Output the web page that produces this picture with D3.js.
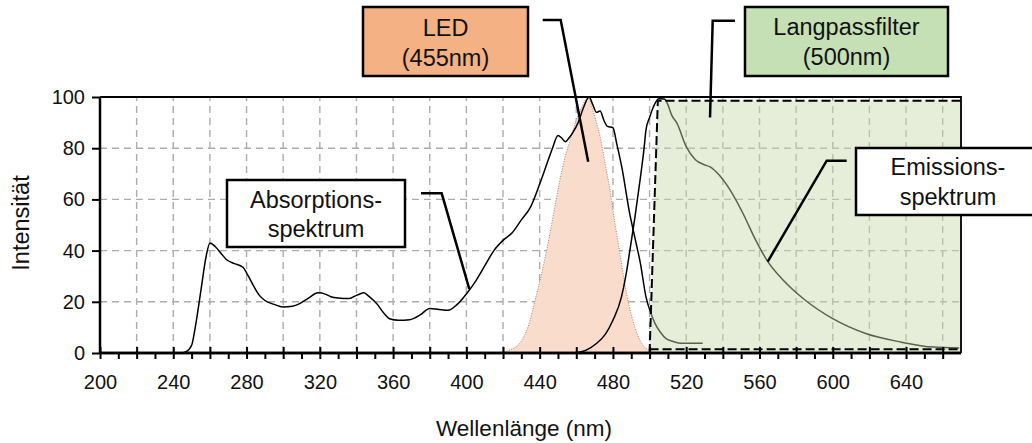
<!DOCTYPE html>
<html>
<head>
<meta charset="utf-8">
<script src="https://cdn.jsdelivr.net/npm/d3@7"></script>
<style>
  body { margin: 0; background: white; }
  svg { font-family: Arial, "Liberation Sans", sans-serif; }
</style>
</head>
<body>
<svg width="1032" height="443"></svg>
<script>
var width = 1032, height = 443;

// spectra, [wavelength nm, intensity]
var absorption = [
  [200,0],[244,0],[247,0.5],[250,3],[252,10],[255,24],[258,38],[260,43],[263,41.5],[266,39],
  [269,36.5],[273,35],[278,33.5],[281,30],[284,26],[287,22.5],[290,20.5],[295,19],[300,18],
  [305,18.3],[309,19.3],[314,21.5],[319,23.5],[323,23],[326,22],[330,21.5],[336,21.3],[340,22.5],
  [344,23.5],[347,22],[351,19.3],[355,15.5],[358,13.4],[363,12.8],[369,13],[375,15],[380,17.4],
  [385,17],[390,16.7],[395,19],[401,24],[405,28],[410,34],[415,40],[420,44],[425,47],[430,52],
  [435,57],[440,66],[444,74],[447,80],[450,85],[452,84],[454,82.5],[456,84],[458,86],
  [461,90],[464,96],[467,100],[469,97],[471,94],[473,94.5],[475,91],[477,88.5],[480,88],[482,82],
  [485,72],[489,55],[492,45],[495,35],[498,22],[501,15],[503,11.5],[506,8],[509,5.6],[513,4.5],
  [517,3.8],[529,3.8]
];

var emission = [
  [458,0],[465,1],[471,3.7],[476,7.5],[480,12.8],[484.7,22],[487,30],[489,38.9],[492,53],
  [494.8,67.5],[497,80],[498,87],[500,92],[502,96],[505,99.3],[508,99.2],[510,97],[512,93],
  [515,89.7],[520,80.6],[525,75.5],[530,73.5],[533,72.7],[538,69.5],[544,63.6],[551,54.5],
  [558,44],[564,36.3],[573,28.4],[585,20.6],[600,13.4],[618,7.6],[637,4.3],[655,2.3],[669,2]
];

var led = [
  [418,0],[423,1],[429,3.7],[434,11],[438,22],[442,34],[445.6,46.7],[449,60],[453,74],[457,84],
  [460,91],[463,96],[466.5,100],[469,95],[471,90],[473,84.5],[476,73],[478.4,63.6],[481,51],
  [483.8,38.9],[486,29],[489,18],[492,10],[494.8,5],[497,2.5],[500,1],[502,0]
];

var filterEdge = [[500,0],[504.5,98.5],[670,98.5]];
var filterBase = [[500,1.5],[670,1.5]];

var xMajor = d3.range(200, 661, 20);
var xMinor = d3.range(210, 670, 20);
var xLabels = [200,240,280,320,360,400,440,480,520,560,600,640];
var yTicks = [0,20,40,60,80,100];

var calloutText = [
  ["LED", "(455nm)"],
  ["Langpassfilter", "(500nm)"],
  ["Absorptions-", "spektrum"],
  ["Emissions-", "spektrum"]
];
// leader tips sit on the curves
var calloutTips = [[466.5,74.7],[533,92],[401.6,25],[564.5,35.7]];

var svg = d3.select('svg');

var x = d3.scaleLinear().domain([200, 670]).range([100, 961]);
var y = d3.scaleLinear().domain([0, 100]).range([353, 97]);

var line = d3.line()
  .x(function(d) { return x(d[0]); })
  .y(function(d) { return y(d[1]); })
  .curve(d3.curveMonotoneX);

var area = d3.area()
  .x(function(d) { return x(d[0]); })
  .y0(y(0))
  .y1(function(d) { return y(d[1]); })
  .curve(d3.curveMonotoneX);

// grid
var grid = svg.append('g')
  .attr('stroke', '#acacac')
  .attr('stroke-width', 1.4)
  .attr('stroke-dasharray', '7,5');

grid.selectAll('.vgrid')
  .data(xMajor.slice(1))
  .enter()
  .append('line')
  .attr('class', 'vgrid')
  .attr('x1', function(d) { return x(d); })
  .attr('x2', function(d) { return x(d); })
  .attr('y1', y(0))
  .attr('y2', y(100));

grid.selectAll('.hgrid')
  .data(yTicks.slice(1, 5))
  .enter()
  .append('line')
  .attr('class', 'hgrid')
  .attr('x1', x(200))
  .attr('x2', x(670))
  .attr('y1', function(d) { return y(d); })
  .attr('y2', function(d) { return y(d); });

// LED band
svg.append('path')
  .datum(led)
  .attr('d', area)
  .attr('fill', '#f9dccb')
  .attr('stroke', '#a88070')
  .attr('stroke-width', 1)
  .attr('stroke-dasharray', '1,1.5');

svg.append('path')
  .datum(absorption)
  .attr('d', line)
  .attr('fill', 'none')
  .attr('stroke', 'black')
  .attr('stroke-width', 1.5);

svg.append('path')
  .datum(emission)
  .attr('d', line)
  .attr('fill', 'none')
  .attr('stroke', 'black')
  .attr('stroke-width', 1.5);

// long pass filter, translucent over the spectra
var filterLine = d3.line()
  .x(function(d) { return x(d[0]); })
  .y(function(d) { return y(d[1]); });

svg.append('path')
  .datum(filterEdge.concat([[670,0]]))
  .attr('d', filterLine)
  .attr('fill', 'rgb(200,215,170)')
  .attr('fill-opacity', 0.45)
  .attr('stroke', 'none');

svg.append('path')
  .datum(filterEdge)
  .attr('d', filterLine)
  .attr('fill', 'none')
  .attr('stroke', 'black')
  .attr('stroke-width', 2)
  .attr('stroke-dasharray', '9,4');

svg.append('path')
  .datum(filterBase)
  .attr('d', filterLine)
  .attr('fill', 'none')
  .attr('stroke', 'black')
  .attr('stroke-width', 2)
  .attr('stroke-dasharray', '9,4');

// frame
svg.append('path')
  .attr('d', 'M' + x(200) + ',' + y(100) + 'H' + x(670) + 'V' + y(0))
  .attr('fill', 'none')
  .attr('stroke', 'black')
  .attr('stroke-width', 1.8);

// axes
var yAxis = svg.append('g')
  .attr('transform', 'translate(' + x(200) + ',0)')
  .call(d3.axisLeft(y).tickValues(yTicks).tickSize(8).tickPadding(7));

var xMinorAxis = svg.append('g')
  .attr('transform', 'translate(0,' + y(0) + ')')
  .call(d3.axisBottom(x).tickValues(xMinor).tickSize(6).tickFormat(''));

var xMajorAxis = svg.append('g')
  .attr('transform', 'translate(0,' + y(0) + ')')
  .call(d3.axisBottom(x).tickValues(xMajor).tickSize(6).tickFormat(''));
xMajorAxis.selectAll('.tick line').attr('y1', -6);

var xLabelAxis = svg.append('g')
  .attr('transform', 'translate(0,' + y(0) + ')')
  .call(d3.axisBottom(x).tickValues(xLabels).tickSize(0).tickPadding(22));
xLabelAxis.select('.domain').remove();

[yAxis, xMinorAxis, xMajorAxis].forEach(function(a) {
  a.select('.domain').attr('stroke-width', 2.5).attr('d',
    a === yAxis ? 'M0,' + y(100) + 'V' + y(0) : 'M' + x(200) + ',0H' + x(670));
  a.selectAll('.tick line').attr('stroke-width', 2);
});

svg.selectAll('.tick text')
  .attr('font-size', 20)
  .attr('font-family', 'Arial, "Liberation Sans", sans-serif')
  .attr('fill', '#111');

svg.append('text')
  .attr('x', 524)
  .attr('y', 436)
  .attr('text-anchor', 'middle')
  .attr('font-size', 22.5)
  .attr('fill', '#111')
  .text('Wellenlänge (nm)');

svg.append('text')
  .attr('transform', 'translate(29,223)rotate(-90)')
  .attr('text-anchor', 'middle')
  .attr('font-size', 23.5)
  .attr('fill', '#111')
  .text('Intensität');

// callouts
var calloutLayout = [
  {box: [363, 7, 165, 69], fill: '#f4b183', elbow: [[542.7,20],[560.7,20]], base: [36, 66]},
  {box: [745, 7, 203, 69], fill: '#c5e0b4', elbow: [[735,20.7],[712.7,20.7]], base: [35, 65]},
  {box: [227, 180, 178, 67], fill: 'white', elbow: [[421,193.3],[441.7,193.3]], base: [208, 237]},
  {box: [856, 148, 184, 67], fill: 'white', elbow: [[846.7,160.7],[826.7,160.7]], base: [175, 205]}
];

var gCallouts = svg.append('g');

calloutLayout.forEach(function(c, i) {
  var tip = calloutTips[i];
  gCallouts.append('path')
    .attr('d', 'M' + c.elbow[0] + 'L' + c.elbow[1] + 'L' + x(tip[0]) + ',' + y(tip[1]))
    .attr('fill', 'none')
    .attr('stroke', 'black')
    .attr('stroke-width', 2.5);

  gCallouts.append('rect')
    .attr('x', c.box[0])
    .attr('y', c.box[1])
    .attr('width', c.box[2])
    .attr('height', c.box[3])
    .attr('fill', c.fill)
    .attr('stroke', 'black')
    .attr('stroke-width', 2.5);

  calloutText[i].forEach(function(t, j) {
    gCallouts.append('text')
      .attr('x', c.box[0] + c.box[2] / 2)
      .attr('y', c.base[j])
      .attr('text-anchor', 'middle')
      .attr('font-size', 23.5)
      .attr('fill', '#111')
      .text(t);
  });
});
</script>
</body>
</html>
